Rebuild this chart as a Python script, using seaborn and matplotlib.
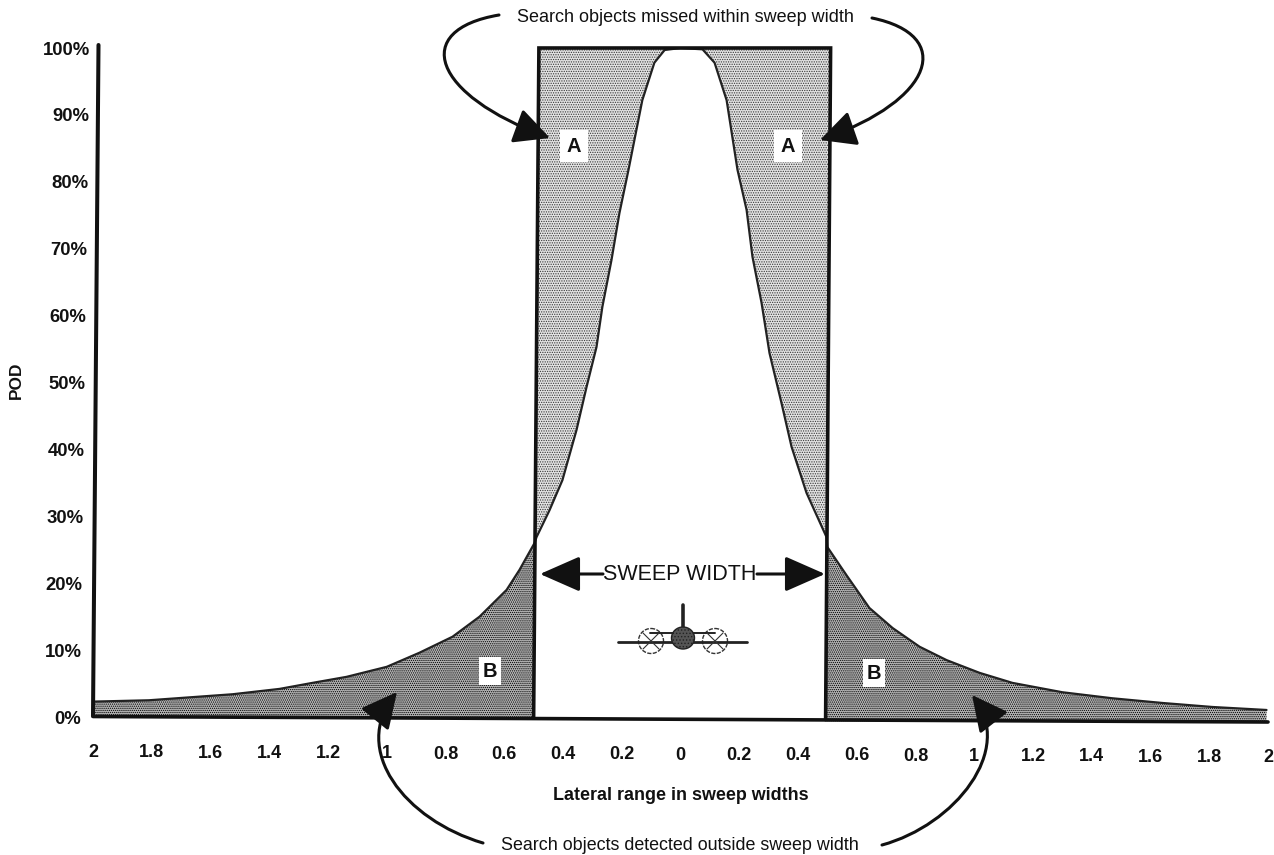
import numpy as np
import pandas as pd
import matplotlib
matplotlib.use('Agg')
import matplotlib.pyplot as plt
from matplotlib.patches import FancyArrowPatch, Circle, Ellipse
from matplotlib.path import Path
import seaborn as sns

# lateral range curve
lateral = [-2, -1.81, -1.525, -1.365, -1.253, -1.137, -1, -0.889, -0.776, -0.684, -0.592, -0.548, -0.497, -0.49,
           -0.446, -0.402, -0.354, -0.32, -0.286, -0.266, -0.235, -0.208, -0.177, -0.13, -0.089, -0.054, 0,
           0.075, 0.116, 0.157, 0.194, 0.225, 0.245, 0.276, 0.303, 0.344, 0.378, 0.429, 0.497,
           0.5, 0.565, 0.643, 0.722, 0.814, 0.906, 1.018, 1.13, 1.3, 1.47, 1.64, 1.81, 1.995]
pod = [2.3, 2.5, 3.4, 4.2, 5.1, 6, 7.5, 9.6, 12, 15, 19, 22, 26, 26.9,
       30.9, 35.4, 42.9, 49.3, 55.3, 61.3, 68.3, 75.3, 81.8, 92.2, 97.8, 99.7, 100,
       99.8, 97.8, 92.2, 81.8, 75.8, 68.8, 61.9, 54.4, 46.9, 40.4, 33.5, 26.9,
       25.4, 21.2, 16.3, 13.3, 10.5, 8.5, 6.6, 5.1, 3.7, 2.8, 2.1, 1.5, 1.05]

x_ticks = [-2, -1.8, -1.6, -1.4, -1.2, -1, -0.8, -0.6, -0.4, -0.2, 0, 0.2, 0.4, 0.6, 0.8, 1, 1.2, 1.4, 1.6, 1.8, 2]
x_labels = ['2', '1.8', '1.6', '1.4', '1.2', '1', '0.8', '0.6', '0.4', '0.2', '0', '0.2', '0.4', '0.6', '0.8', '1',
            '1.2', '1.4', '1.6', '1.8', '2']
y_ticks = [0, 10, 20, 30, 40, 50, 60, 70, 80, 90, 100]
y_labels = ['0%', '10%', '20%', '30%', '40%', '50%', '60%', '70%', '80%', '90%', '100%']

sns.set_theme(style='white')
plt.rcParams['font.family'] = ['Liberation Sans', 'DejaVu Sans']
plt.rcParams['hatch.linewidth'] = 0.6

W, H = 1274, 855
INK = '#111111'
fig = plt.figure(figsize=(W / 100, H / 100), dpi=100)
ax = fig.add_axes([93 / W, 1 - 717 / H, (1268 - 93) / W, (717 - 48) / H])

df = pd.DataFrame({'lateral': lateral, 'pod': pod})
x = df['lateral'].values
y = df['pod'].values

# grey halftone areas, the scan leans a little so the box edges are not quite upright
m = (x >= -0.49) & (x <= 0.497)
ax.fill(np.concatenate([[-0.482, 0.511], x[m][::-1]]), np.concatenate([[100, 100], y[m][::-1]]),
        facecolor='#e2e2e2', edgecolor='#383838', hatch='.......', linewidth=0)
m = x <= -0.497
ax.fill_between(x[m], 0, y[m], facecolor='#b4b4b4', edgecolor='#000000', hatch='........', linewidth=0)
m = x >= 0.497
ax.fill_between(x[m], -0.7, y[m], facecolor='#b4b4b4', edgecolor='#000000', hatch='........', linewidth=0,
                clip_on=False)

sns.lineplot(data=df, x='lateral', y='pod', color='#222222', linewidth=1.6, ax=ax, estimator=None, sort=False)

ax.plot([-0.5, -0.482, 0.511, 0.494], [0, 100, 100, -0.4], color=INK, lw=2.6, solid_joinstyle='miter',
        clip_on=False)

ax.set_xlim(-2, 2)
ax.set_ylim(0, 100)
ax.set_xticks(x_ticks)
ax.set_xticklabels(x_labels, fontsize=13, fontweight='bold', color=INK)
ax.set_yticks(y_ticks)
ax.set_yticklabels(y_labels, fontsize=13.3, fontweight='bold', color=INK)
ax.tick_params(axis='both', length=0)
ax.set_xlabel('')
ax.set_ylabel('')
sns.despine(ax=ax, left=True, bottom=True)

# labels follow the lean of the scan
for t, v in zip(ax.xaxis.get_major_ticks(), x_ticks):
    t.set_pad(19.5 + 3.6 * (v + 2) / 4)
for t, v in zip(ax.yaxis.get_major_ticks(), y_ticks):
    t.set_pad(8.6 - 6.4 * v / 100)

# overlay in picture pixels for the notes, arrows and the aircraft
ov = fig.add_axes([0, 0, 1, 1])
ov.set_xlim(0, W)
ov.set_ylim(H, 0)
ov.axis('off')
ov.patch.set_alpha(0)

ov.plot([98.5, 93, 93], [45, 716, 716], color=INK, lw=2.9, solid_joinstyle='miter')
ov.plot([93, 1268], [716.5, 722], color=INK, lw=2.6)

ov.text(16, 380, 'POD', rotation=90, ha='center', va='center', fontsize=12.4, fontweight='bold', color=INK)
ov.text(681, 795, 'Lateral range in sweep widths', ha='center', va='center', fontsize=12.9, fontweight='bold',
        color=INK)
ov.text(685, 17, 'Search objects missed within sweep width', ha='center', va='center', fontsize=13, color=INK)
ov.text(680, 845, 'Search objects detected outside sweep width', ha='center', va='center', fontsize=12.9,
        color=INK)
ov.text(680, 574, 'SWEEP WIDTH', ha='center', va='center', fontsize=15.5, color=INK)

for lx, ly, t, pad in [(574, 146, 'A', 5), (788, 146, 'A', 5), (490, 671, 'B', 3), (874, 673, 'B', 3)]:
    ov.text(lx, ly, t, ha='center', va='center', fontsize=14.5, fontweight='bold', color=INK,
            bbox=dict(facecolor='white', edgecolor='none', pad=pad))


def curved(p0, c1, c2, p1):
    path = Path([p0, c1, c2, p1], [Path.MOVETO, Path.CURVE4, Path.CURVE4, Path.CURVE4])
    ov.add_patch(FancyArrowPatch(path=path, arrowstyle='-|>,head_length=1.0,head_width=0.5', mutation_scale=22,
                                 lw=2.2, color=INK, shrinkA=0, shrinkB=0))


curved((499, 15), (410, 30), (432, 95), (550, 138))
curved((872, 18), (955, 35), (935, 100), (820, 140))
curved((483, 843), (405, 820), (350, 750), (397, 692))
curved((882, 845), (955, 825), (1015, 750), (972, 695))

for a, b in [((603, 574), (540, 574)), ((757, 574), (825, 574))]:
    ov.add_patch(FancyArrowPatch(a, b, arrowstyle='-|>,head_length=1.25,head_width=0.55', mutation_scale=20, lw=2.2,
                                 color=INK, shrinkA=0, shrinkB=0))

# aircraft
ov.plot([683, 683], [605, 630], color='#222222', lw=2.6, solid_capstyle='round')
ov.plot([618, 747], [642, 642], color='#222222', lw=2)
ov.plot([650, 715], [633, 633], color='#222222', lw=1.4)
ov.add_patch(Ellipse((683, 638), 23, 22, facecolor='#555555', edgecolor='#222222', lw=1, hatch='.....', zorder=3))
for cx in [651, 715]:
    ov.add_patch(Circle((cx, 641), 12.5, facecolor='none', edgecolor='#333333', lw=1, ls=(0, (3, 1))))
    ov.plot([cx - 8, cx + 8], [633, 649], color='#333333', lw=0.8)
    ov.plot([cx - 8, cx + 8], [649, 633], color='#333333', lw=0.8)

fig.savefig('out.png', dpi=100)
